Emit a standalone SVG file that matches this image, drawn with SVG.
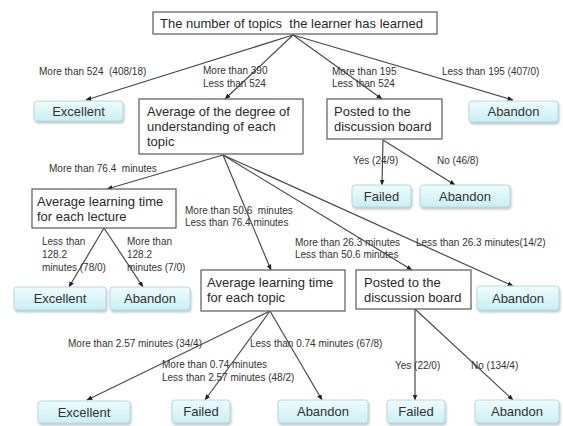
<svg xmlns="http://www.w3.org/2000/svg" width="563" height="426" viewBox="0 0 563 426">
<defs>
<linearGradient id="leafGrad" x1="0" y1="0" x2="0" y2="1">
<stop offset="0" stop-color="#eefcfd"/>
<stop offset="1" stop-color="#c9eff4"/>
</linearGradient>
<filter id="shadow" x="-10%" y="-20%" width="130%" height="160%">
<feDropShadow dx="1" dy="2" stdDeviation="1.2" flood-color="#8a9a9c" flood-opacity="0.55"/>
</filter>
<marker id="arrow" viewBox="0 0 10 10" refX="9" refY="5" markerWidth="6" markerHeight="6" markerUnits="userSpaceOnUse" orient="auto">
<path d="M0,1 L10,5 L0,9 z" fill="#222"/>
</marker>
<style>
.box{fill:#fff;stroke:#666;stroke-width:1.3}
.leaf{fill:url(#leafGrad);stroke:#b9d9de;stroke-width:1;filter:url(#shadow)}
.bt{font-family:"Liberation Sans",Arial,sans-serif;font-size:13px;fill:#2a2a2a}
.lt{font-family:"Liberation Sans",Arial,sans-serif;font-size:13px;fill:#333;text-anchor:middle}
.lbl{font-family:"Liberation Sans",Arial,sans-serif;font-size:10px;fill:#333;white-space:pre}
.edge{stroke:#4a4a4a;stroke-width:1.2;fill:none;marker-end:url(#arrow)}
</style>
</defs>
<rect width="563" height="426" fill="#fff"/>

<g id="connectors">
<line class="edge" x1="293" y1="35" x2="86" y2="100"/>
<line class="edge" x1="293" y1="35" x2="225" y2="99"/>
<line class="edge" x1="293" y1="35" x2="382" y2="99"/>
<line class="edge" x1="293" y1="35" x2="513" y2="100"/>
<line class="edge" x1="383" y1="140" x2="382" y2="185"/>
<line class="edge" x1="383" y1="140" x2="455" y2="185"/>
<line class="edge" x1="223" y1="155" x2="107" y2="189"/>
<line class="edge" x1="223" y1="155" x2="271" y2="270"/>
<line class="edge" x1="223" y1="155" x2="412" y2="270"/>
<line class="edge" x1="223" y1="155" x2="513" y2="286"/>
<line class="edge" x1="104" y1="228" x2="69" y2="287"/>
<line class="edge" x1="104" y1="228" x2="143" y2="287"/>
<line class="edge" x1="270" y1="311" x2="87" y2="400"/>
<line class="edge" x1="270" y1="311" x2="205" y2="400"/>
<line class="edge" x1="270" y1="311" x2="322" y2="400"/>
<line class="edge" x1="415" y1="309" x2="415" y2="400"/>
<line class="edge" x1="415" y1="309" x2="513" y2="400"/>
</g>

<g id="edge-labels">
<text class="lbl" x="39" y="75">More than 524  (408/18)</text>
<text class="lbl" x="203" y="73.5">More than 390</text>
<text class="lbl" x="203" y="86.5">Less than 524</text>
<text class="lbl" x="332" y="74.5">More than 195</text>
<text class="lbl" x="332" y="86.5">Less than 524</text>
<text class="lbl" x="442" y="74.5">Less than 195 (407/0)</text>
<text class="lbl" x="353" y="163.5">Yes (24/9)</text>
<text class="lbl" x="437" y="163.5">No (46/8)</text>
<text class="lbl" x="49" y="171.5">More than 76.4  minutes</text>
<text class="lbl" x="185" y="213.5">More than 50.6  minutes</text>
<text class="lbl" x="185" y="225.5">Less than 76.4 minutes</text>
<text class="lbl" x="42" y="244.5">Less than</text>
<text class="lbl" x="42" y="257.5">128.2</text>
<text class="lbl" x="42" y="270.5">minutes (78/0)</text>
<text class="lbl" x="127" y="244.5">More than</text>
<text class="lbl" x="127" y="257.5">128.2</text>
<text class="lbl" x="127" y="270.5">minutes (7/0)</text>
<text class="lbl" x="295" y="245.5">More than 26.3 minutes</text>
<text class="lbl" x="295" y="257.5">Less than 50.6 minutes</text>
<text class="lbl" x="416" y="246">Less than 26.3 minutes(14/2)</text>
<text class="lbl" x="68" y="347">More than 2.57 minutes (34/4)</text>
<text class="lbl" x="162" y="367.5">More than 0.74 minutes</text>
<text class="lbl" x="162" y="380.5">Less than 2.57 minutes (48/2)</text>
<text class="lbl" x="250" y="347">Less than 0.74 minutes (67/8)</text>
<text class="lbl" x="395" y="368.5">Yes (22/0)</text>
<text class="lbl" x="471" y="368.5">No (134/4)</text>
</g>

<g id="root">
<rect class="box" x="153" y="12" width="284" height="22"/>
<text class="bt" x="160" y="28" style="white-space:pre">The number of topics  the learner has learned</text>
</g>

<g id="excellent-1">
<rect class="leaf" x="34" y="101" width="89" height="20" rx="3"/>
<text class="lt" x="78.5" y="115.5">Excellent</text>
</g>

<g id="avg-understanding">
<rect class="box" x="139" y="99" width="164" height="55"/>
<text class="bt" x="147" y="116">Average of the degree of</text>
<text class="bt" x="147" y="131">understanding of each</text>
<text class="bt" x="147" y="146">topic</text>
</g>

<g id="posted-1">
<rect class="box" x="327" y="99" width="115" height="40"/>
<text class="bt" x="334" y="116">Posted to the</text>
<text class="bt" x="334" y="131">discussion board</text>
</g>

<g id="abandon-1">
<rect class="leaf" x="469" y="101" width="89" height="21" rx="3"/>
<text class="lt" x="513.5" y="116">Abandon</text>
</g>

<g id="failed-2">
<rect class="leaf" x="352" y="185" width="59" height="22" rx="3"/>
<text class="lt" x="381.5" y="200.5">Failed</text>
</g>

<g id="abandon-2">
<rect class="leaf" x="420" y="185" width="90" height="22" rx="3"/>
<text class="lt" x="465" y="200.5">Abandon</text>
</g>

<g id="lecture-time">
<rect class="box" x="32" y="189" width="144" height="39"/>
<text class="bt" x="37" y="206">Average learning time</text>
<text class="bt" x="37" y="221">for each lecture</text>
</g>

<g id="excellent-3">
<rect class="leaf" x="14" y="287" width="92" height="23" rx="3"/>
<text class="lt" x="60" y="303">Excellent</text>
</g>

<g id="abandon-3">
<rect class="leaf" x="110" y="287" width="80" height="23" rx="3"/>
<text class="lt" x="150" y="303">Abandon</text>
</g>

<g id="topic-time">
<rect class="box" x="201" y="270" width="144" height="41"/>
<text class="bt" x="207" y="287">Average learning time</text>
<text class="bt" x="207" y="302">for each topic</text>
</g>

<g id="posted-2">
<rect class="box" x="356" y="270" width="115" height="39"/>
<text class="bt" x="364" y="287">Posted to the</text>
<text class="bt" x="364" y="302">discussion board</text>
</g>

<g id="abandon-3r">
<rect class="leaf" x="477" y="286" width="82" height="24" rx="3"/>
<text class="lt" x="518" y="302.5">Abandon</text>
</g>

<g id="excellent-4">
<rect class="leaf" x="38" y="401" width="92" height="22" rx="3"/>
<text class="lt" x="84" y="416.5">Excellent</text>
</g>

<g id="failed-4a">
<rect class="leaf" x="172" y="400" width="58" height="23" rx="3"/>
<text class="lt" x="201" y="416">Failed</text>
</g>

<g id="abandon-4a">
<rect class="leaf" x="278" y="400" width="90" height="23" rx="3"/>
<text class="lt" x="323" y="416">Abandon</text>
</g>

<g id="failed-4b">
<rect class="leaf" x="387" y="400" width="58" height="23" rx="3"/>
<text class="lt" x="416" y="416">Failed</text>
</g>

<g id="abandon-4b">
<rect class="leaf" x="475" y="400" width="84" height="23" rx="3"/>
<text class="lt" x="517" y="416">Abandon</text>
</g>
</svg>
